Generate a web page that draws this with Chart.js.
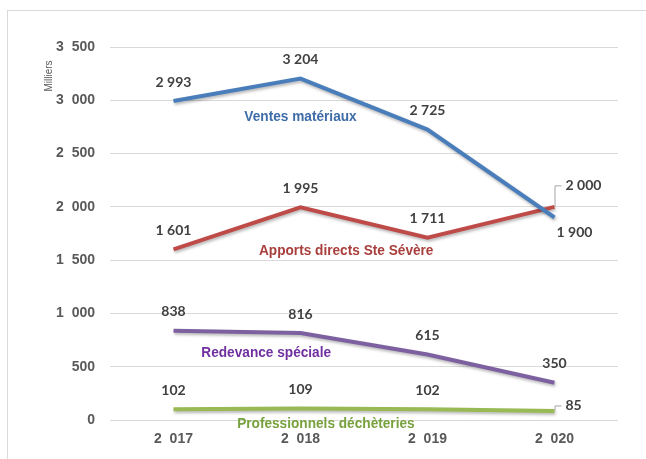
<!DOCTYPE html>
<html>
<head>
<meta charset="utf-8">
<script src="https://cdn.jsdelivr.net/npm/chart.js@4/dist/chart.umd.min.js"></script>
<style>
  html, body { margin: 0; padding: 0; background: #ffffff; overflow: hidden; }
  #cadre { position: absolute; left: 7px; top: 10px; width: 1000px; height: 1000px; border: 1px solid #d9d9d9; }
  #zone { position: absolute; left: 0; top: 0; width: 646px; height: 459px; }
</style>
</head>
<body>
<div id="cadre"></div>
<div id="zone"><canvas id="graph" width="646" height="459"></canvas></div>
<script>
// Données (milliers)
const A_annees = ["2 017", "2 018", "2 019", "2 020"];
const A_ventes = [2993, 3204, 2725, 1900];
const A_apports = [1601, 1995, 1711, 2000];
const A_redevance = [838, 816, 615, 350];
const A_professionnels = [102, 109, 102, 85];
const A_ticks = [0, 500, 1000, 1500, 2000, 2500, 3000, 3500];

const A_noms = ["Ventes matériaux", "Apports directs Ste Sévère", "Redevance spéciale", "Professionnels déchèteries"];
// ancrage des noms de séries : [index catégorie, valeur]
const A_ancresNoms = [[1.0, 2845], [1.36, 1590], [0.73, 630], [1.2, -40]];

const A_couleurs = ["#4a7ebb", "#be4b48", "#7d60a0", "#98b954"];
const A_couleursTexte = ["#3d6ca8", "#a93f3c", "#7030a0", "#77a13c"];

const S_narrow = "'Liberation Sans Narrow', 'Arial Narrow', 'Liberation Sans', sans-serif";
const S_etiquette = "Lato, 'Open Sans', sans-serif";

function F_format(I_val) {
  const S = String(I_val);
  return S.length > 3 ? S.slice(0, S.length - 3) + " " + S.slice(-3) : S;
}

// position de chaque étiquette par rapport au point : "haut", "droite", "basdroite"
const A_positions = [
  ["haut", "haut", "haut", "basdroite"],
  ["haut", "haut", "haut", "droite"],
  ["haut", "haut", "haut", "haut"],
  ["haut", "haut", "haut", "droite"]
];

const O_pluginOmbre = {
  id: "ombre",
  beforeDatasetDraw(O_chart) {
    const ctx = O_chart.ctx;
    ctx.save();
    ctx.shadowColor = "rgba(0,0,0,0.28)";
    ctx.shadowBlur = 3;
    ctx.shadowOffsetX = 1;
    ctx.shadowOffsetY = 2;
  },
  afterDatasetDraw(O_chart) {
    O_chart.ctx.restore();
  }
};

const O_pluginEtiquettes = {
  id: "etiquettes",
  afterDatasetsDraw(O_chart) {
    const ctx = O_chart.ctx;
    const O_x = O_chart.scales.x;
    const O_y = O_chart.scales.y;
    ctx.save();
    // valeurs
    ctx.font = "bold 14px " + S_etiquette;
    ctx.fillStyle = "#404040";
    ctx.textBaseline = "middle";
    O_chart.data.datasets.forEach((O_ds, I_ds) => {
      const O_meta = O_chart.getDatasetMeta(I_ds);
      O_meta.data.forEach((O_pt, I) => {
        const S_txt = F_format(O_ds.data[I]);
        const S_pos = A_positions[I_ds][I];
        if (S_pos === "haut") {
          ctx.textAlign = "center";
          ctx.fillText(S_txt, O_pt.x, O_pt.y - 19);
        } else if (S_pos === "basdroite") {
          ctx.textAlign = "center";
          ctx.fillText(S_txt, O_pt.x + 20, O_pt.y + 15);
        } else {
          // étiquette à droite avec ligne de rappel
          const I_haut = I_ds === 1 ? 21 : 5;
          ctx.strokeStyle = "#a6a6a6";
          ctx.lineWidth = 1;
          ctx.beginPath();
          ctx.moveTo(O_pt.x + 0.5, O_pt.y);
          ctx.lineTo(O_pt.x + 0.5, O_pt.y - I_haut);
          ctx.lineTo(O_pt.x + 7, O_pt.y - I_haut);
          ctx.stroke();
          ctx.textAlign = "left";
          ctx.fillText(S_txt, O_pt.x + 11, O_pt.y - I_haut);
        }
      });
    });
    // noms des séries (police étroite simulée)
    ctx.font = "bold 15px " + S_narrow;
    ctx.textAlign = "center";
    A_noms.forEach((S_nom, I) => {
      ctx.fillStyle = A_couleursTexte[I];
      const I_px = O_x.getPixelForValue(A_ancresNoms[I][0]);
      const I_py = O_y.getPixelForValue(A_ancresNoms[I][1]);
      ctx.save();
      ctx.translate(I_px, I_py);
      ctx.scale(0.91, 1);
      ctx.fillText(S_nom, 0, 0);
      ctx.restore();
    });
    // titre vertical « Milliers »
    ctx.font = "10px 'Liberation Sans', sans-serif";
    ctx.fillStyle = "#595959";
    ctx.translate(49, 76);
    ctx.rotate(-Math.PI / 2);
    ctx.fillText("Milliers", 0, 0);
    ctx.restore();
  }
};

const A_datasets = [A_ventes, A_apports, A_redevance, A_professionnels].map((A_val, I) => ({
  label: A_noms[I],
  data: A_val,
  borderColor: A_couleurs[I],
  backgroundColor: A_couleurs[I],
  borderWidth: 4,
  pointRadius: 0,
  tension: 0,
  fill: false
}));

new Chart(document.getElementById("graph").getContext("2d"), {
  type: "line",
  data: { labels: A_annees, datasets: A_datasets },
  options: {
    responsive: false,
    animation: false,
    events: [],
    layout: { padding: { left: 0, right: 28, top: 47, bottom: 0 } },
    plugins: { legend: { display: false }, tooltip: { enabled: false } },
    scales: {
      x: {
        offset: true,
        grid: { display: false, drawTicks: false },
        border: { display: false },
        ticks: {
          color: "#595959",
          padding: 11,
          font: { family: S_narrow, size: 14, weight: "bold" },
          callback: (v, I) => A_annees[I].replace(" ", "  ")
        },
        afterFit(O_scale) { O_scale.height = 39; }
      },
      y: {
        min: 0,
        max: 3500,
        afterBuildTicks(O_scale) { O_scale.ticks = A_ticks.map((v) => ({ value: v })); },
        grid: { color: "#d9d9d9", lineWidth: 1, drawTicks: false },
        border: { display: false },
        ticks: {
          color: "#595959",
          padding: 15,
          font: { family: S_narrow, size: 14, weight: "bold" },
          callback: (v) => F_format(v).replace(" ", "  ")
        },
        afterFit(O_scale) { O_scale.width = 110; }
      }
    }
  },
  plugins: [O_pluginOmbre, O_pluginEtiquettes]
});
</script>
</body>
</html>
